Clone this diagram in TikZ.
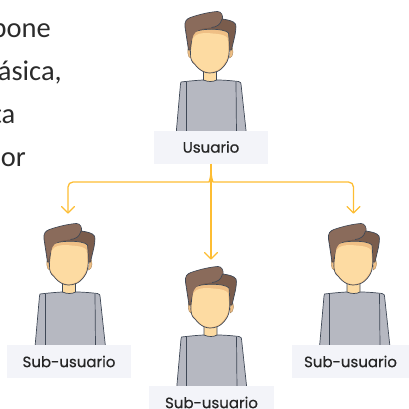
\documentclass[tikz,border=0pt]{standalone}
\usetikzlibrary{calc}
\usepackage{fontspec}
\setmainfont{Carlito}
\newfontfamily\labelfont[FakeBold=0.5]{Poppins}
\definecolor{hairA}{HTML}{8A6B5B}
\definecolor{hairB}{HTML}{7A5C4C}
\definecolor{skinA}{HTML}{FDDBA2}
\definecolor{skinB}{HTML}{EFBF85}
\definecolor{shirt}{HTML}{B6B8C1}
\definecolor{inkline}{HTML}{3F4856}
\definecolor{band}{HTML}{F3F4F9}
\definecolor{linkc}{HTML}{FDBD33}
\definecolor{bodytext}{HTML}{2B2B2B}
\tikzset{
  x=1pt,y=-1pt,
  pline/.style={draw=inkline,line width=0.7pt,line join=round},
  tagbox/.style={fill=band,inner sep=0pt,minimum height=33pt,font=\labelfont\fontsize{15}{15}\selectfont,text=black!85},
  para/.style={anchor=base east,inner sep=0pt,font=\fontsize{28.5}{28.5}\selectfont,text=bodytext},
  link/.style={draw=linkc,line width=1.3pt,rounded corners=5pt},
  tip/.style={draw=linkc,line width=1.3pt,line cap=round,line join=round},
  pics/person/.style={code={
    % body
    \path[fill=shirt,pline] (-29.5,82) .. controls (-17,80.5) and (-8,80) .. (-7,80) -- (7,80)
      .. controls (14,80) and (24,81) .. (28,81.5) .. controls (30,82) and (30.5,83) .. (30.5,84)
      -- (36,135) -- (-34.5,135) -- (-30,84) .. controls (-30,83) and (-30,82.5) .. (-29.5,82) -- cycle;
    \path[pline] (-24.5,82) -- (-24.5,135);
    \path[pline] (25.5,82) -- (26,135);
    % neck
    \path[fill=skinA,pline] (-7,70) -- (-7,80) .. controls (-3,82) and (3,82) .. (6,80) -- (6,70) -- cycle;
    % ears
    \path[fill=skinB,draw=skinB!70!black,line width=0.4pt] (-21,47) .. controls (-24,47) and (-23,58) .. (-20,58) -- cycle;
    \path[fill=skinB,draw=skinB!70!black,line width=0.4pt] (20,47) .. controls (24,47) and (23,58) .. (19,58) -- cycle;
    % back hair
    \path[fill=hairB,pline] (-22,50) -- (-25.5,27) .. controls (-26,21) and (-24,19) .. (-20,17.5)
      .. controls (-10,14) and (0,12) .. (7,11.5) .. controls (11,11.5) and (12.5,16) .. (12,19)
      .. controls (18,20) and (23,21) .. (25,24) .. controls (26,28) and (25,31) .. (24.5,35)
      -- (21,50) -- cycle;
    % face
    \path[fill=skinB,pline] (-18,33) .. controls (-20,50) and (-22,60) .. (-16,64)
      .. controls (-10,72) and (-4,73) .. (-1,73) .. controls (3,73) and (10,72) .. (15,64)
      .. controls (20,58) and (19,45) .. (18,33) .. controls (14,28) and (-12,28) .. (-18,33) -- cycle;
    \path[fill=skinA] (-17.5,38) .. controls (-20,52) and (-21,59) .. (-15.5,63)
      .. controls (-10,71) and (-4,72) .. (-1,72) .. controls (3,72) and (9,71) .. (14,63)
      .. controls (19,57) and (18,46) .. (17,38) .. controls (13,33) and (2,34) .. (-2,33)
      .. controls (-8,33) and (-14,33) .. (-17.5,38) -- cycle;
    % front hair
    \path[fill=hairA] (-25,25) .. controls (-25,21) and (-23,19.5) .. (-20,18)
      .. controls (-10,14.5) and (0,12.5) .. (7,12) .. controls (11,12) and (12,16) .. (11.5,19)
      .. controls (10,25) and (6,27) .. (1,27.5) .. controls (-8,28) and (-15,30) .. (-17,35)
      -- (-21.5,48) -- cycle;
    \path[pline] (11.5,19) .. controls (10,25) and (6,27) .. (1,27.5);
  }}
}
\begin{document}
\begin{tikzpicture}
\useasboundingbox (0,0) rectangle (409,409);
\node[para] (t1) at (51,38) {pone};
\node[para] (t2) at (62,81) {básica,};
\node[para] (t3) at (15.5,124) {ta};
\node[para] (t4) at (26,166) {por};

\coordinate (pa) at (210.5,0);
\coordinate (pb) at (69.5,212);
\coordinate (pc) at (211,255);
\coordinate (pd) at (354,212);

\pic at (pa) {person};
\pic at (pb) {person};
\pic at (pc) {person};
\pic at (pd) {person};

\node[tagbox,minimum width=114pt] (ua) at (211,147) {Usuario};
\node[tagbox,minimum width=124pt] (ub) at (69,361.5) {Sub-usuario};
\node[tagbox,minimum width=125pt] (uc) at (211.5,402.5) {Sub-usuario};
\node[tagbox,minimum width=117pt] (ud) at (350.5,361.5) {Sub-usuario};

\coordinate (fork) at (211,170);
\coordinate (ta) at (68,213);
\coordinate (tc) at (211,259);
\coordinate (td) at (353.5,213);
\coordinate (ca) at (68,182);
\coordinate (cd) at (353.5,182);

\draw[link] (ua.south) -- (tc);
\draw[link] (fork) .. controls (211,178) and (209,182) .. (204,182) -- (ca) -- (ta);
\draw[link] (fork) .. controls (211,178) and (213,182) .. (218,182) -- (cd) -- (td);
\draw[tip] ($(ta)+(-6.5,-6.5)$) -- (ta) -- ($(ta)+(6.5,-6.5)$);
\draw[tip] ($(tc)+(-6.5,-6.5)$) -- (tc) -- ($(tc)+(6.5,-6.5)$);
\draw[tip] ($(td)+(-6.5,-6.5)$) -- (td) -- ($(td)+(6.5,-6.5)$);
\end{tikzpicture}
\end{document}
